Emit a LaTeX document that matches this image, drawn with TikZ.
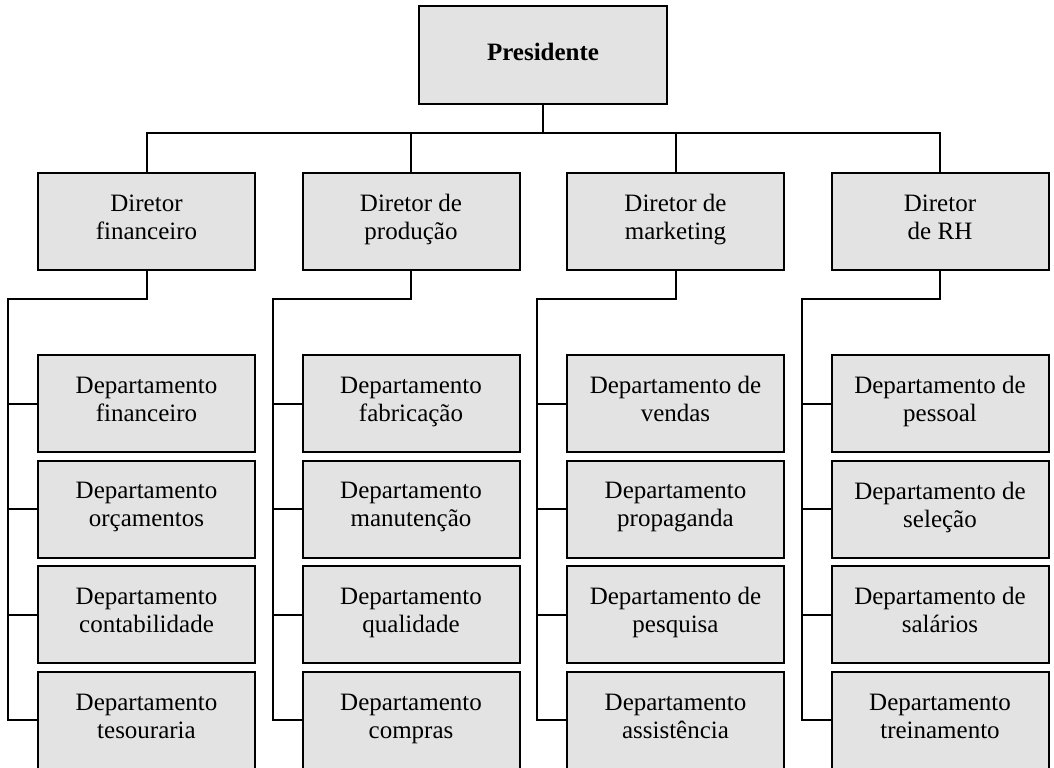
\documentclass[tikz,border=0pt]{standalone}
\usepackage{fontspec}
\setmainfont{Liberation Serif}
\usetikzlibrary{positioning}
\definecolor{boxgray}{RGB}{227,227,227}
\tikzset{
  orgbox/.style={draw, fill=boxgray, line width=1pt, minimum width=108.5pt,
    minimum height=48.5pt, align=center, inner sep=0pt,
    font=\fontsize{12.5}{14}\selectfont,
    execute at begin node={\strut}, execute at end node={\strut}},
  link/.style={line width=1pt}
}

\begin{document}
\begin{tikzpicture}[x=0.5pt,y=-0.5pt]
  \clip (0,0) rectangle (1054,767);
  \node[orgbox, minimum width=124pt, minimum height=49pt,
    font=\fontsize{12.5}{14}\selectfont\bfseries] (pres) at (543,55) {Presidente};

  \node[orgbox] (dir1) at (146.5,221) {Diretor\\financeiro};
  \node[orgbox] (dir2) at (411,221) {Diretor de\\produção};
  \node[orgbox] (dir3) at (675.5,221) {Diretor de\\marketing};
  \node[orgbox] (dir4) at (940,221) {Diretor\\de RH};

  \node[orgbox] (dep11) at (146.5,403.5) {Departamento\\financeiro};
  \node[orgbox] (dep12) at (146.5,509) {Departamento\\orçamentos};
  \node[orgbox] (dep13) at (146.5,614.5) {Departamento\\contabilidade};
  \node[orgbox] (dep14) at (146.5,720) {Departamento\\tesouraria};

  \node[orgbox] (dep21) at (411,403.5) {Departamento\\fabricação};
  \node[orgbox] (dep22) at (411,509) {Departamento\\manutenção};
  \node[orgbox] (dep23) at (411,614.5) {Departamento\\qualidade};
  \node[orgbox] (dep24) at (411,720) {Departamento\\compras};

  \node[orgbox] (dep31) at (675.5,403.5) {Departamento de\\vendas};
  \node[orgbox] (dep32) at (675.5,509) {Departamento\\propaganda};
  \node[orgbox] (dep33) at (675.5,614.5) {Departamento de\\pesquisa};
  \node[orgbox] (dep34) at (675.5,720) {Departamento\\assistência};

  \node[orgbox] (dep41) at (940,403.5) {Departamento de\\pessoal};
  \node[orgbox] (dep42) at (940,509) {Departamento de\\seleção};
  \node[orgbox] (dep43) at (940,614.5) {Departamento de\\salários};
  \node[orgbox] (dep44) at (940,720) {Departamento\\treinamento};

  % president to directors
  \coordinate (bus) at (0,133);
  \foreach \k in {1,...,4}
    \draw[link] (pres.south) -- (pres.south |- bus) -| (dir\k.north);

  % directors to departments
  \foreach \k/\xv in {1/8,2/272.5,3/537,4/801.5} {
    \coordinate (top\k) at (\xv,299);
    \draw[link] (dir\k.south) |- (top\k) |- (dep\k4.west);
    \foreach \j in {1,2,3}
      \draw[link] (top\k |- dep\k\j.west) -- (dep\k\j.west);
  }
\end{tikzpicture}
\end{document}
